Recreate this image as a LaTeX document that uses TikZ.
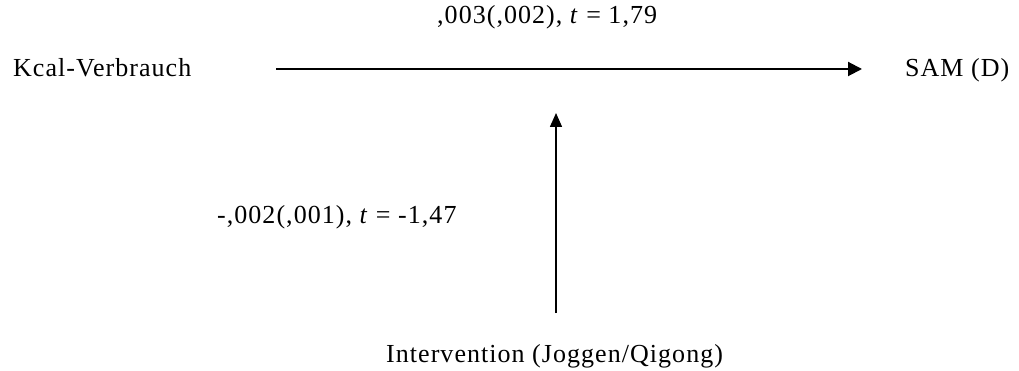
\documentclass[tikz,border=0pt]{standalone}
\usepackage{fontspec}
\setmainfont{Liberation Serif}[LetterSpace=4]
\usetikzlibrary{arrows.meta,calc}
\begin{document}
\begin{tikzpicture}[x=1pt,y=-1pt,
  lbl/.style={inner sep=0pt,anchor=base west,font=\fontsize{26}{30}\selectfont},
  harr/.style={line width=2pt,-{Triangle[length=14pt,width=14pt]}},
  varr/.style={line width=1.5pt,-{Triangle[length=14pt,width=12pt]}}]
\useasboundingbox (0,0) rectangle (1019,371);
\node[lbl] (kcal) at (13,77) {Kcal-Verbrauch};
\node[lbl] (sam) at (905,77) {SAM (D)};
\node[lbl] (int) at (386,362) {Intervention (Joggen/Qigong)};
\node[lbl] (top) at (437,24) {,003(,002), \textit{t} = 1,79};
\node[lbl] (left) at (217,224) {-,002(,001), \textit{t} = -1,47};
\coordinate (hs) at ($(kcal.base west)+(263,-8)$);
\coordinate (he) at ($(sam.base west)+(-43,-8)$);
\draw[harr] (hs) -- (he);
\coordinate (vs) at ($(int.base west)+(170,-49)$);
\coordinate (ve) at ($(int.base west)+(170,-249)$);
\draw[varr] (vs) -- (ve);
\end{tikzpicture}
\end{document}
